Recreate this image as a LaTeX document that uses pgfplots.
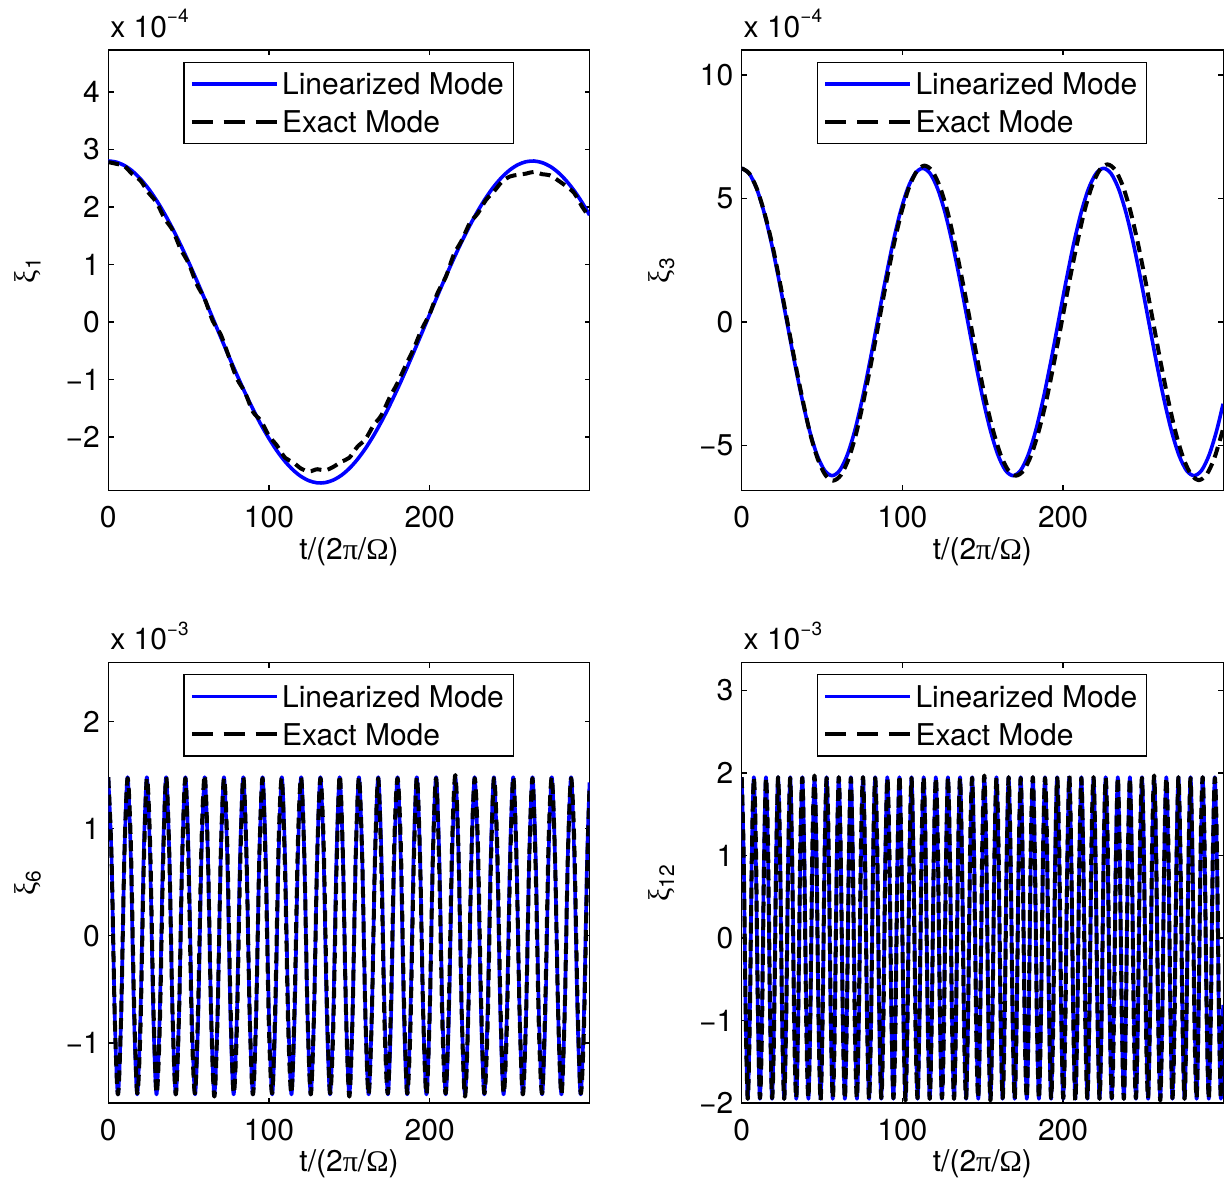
\documentclass[border=0pt]{standalone}
\usepackage{fontspec}
\setmainfont{TeX Gyre Heros}
\newfontfamily\grk{Liberation Serif}
\usepackage{pgfplots}
\usepackage{pgfplotstable}
\pgfplotsset{compat=1.18}

\newcommand{\fs}{\fontsize{15}{18}\selectfont}

% xi_1 : linearized vs exact
\pgfplotstableread{
t lin ex
0 2.800 2.78
5 2.780 2.75
10 2.721 2.71
15 2.624 2.57
20 2.489 2.46
25 2.319 2.25
30 2.116 2.08
35 1.883 1.80
40 1.624 1.60
45 1.342 1.27
50 1.041 1.02
55 0.725 0.66
60 0.398 0.40
65 0.067 0.02
70 -0.266 -0.22
75 -0.595 -0.60
80 -0.916 -0.98
85 -1.224 -1.22
90 -1.514 -1.56
95 -1.784 -1.72
100 -2.026 -1.98
105 -2.242 -2.15
110 -2.425 -2.36
115 -2.574 -2.44
120 -2.687 -2.55
125 -2.761 -2.60
130 -2.797 -2.56
135 -2.793 -2.58
140 -2.749 -2.52
145 -2.667 -2.43
150 -2.547 -2.36
155 -2.391 -2.17
160 -2.201 -2.04
165 -1.980 -1.80
170 -1.731 -1.62
175 -1.457 -1.32
180 -1.163 -1.06
185 -0.853 -0.76
190 -0.530 -0.47
195 -0.200 -0.13
200 0.133 0.14
205 0.464 0.51
210 0.789 0.78
215 1.102 1.17
220 1.400 1.42
225 1.678 1.72
230 1.932 1.89
235 2.160 2.12
240 2.356 2.27
245 2.519 2.44
250 2.646 2.53
255 2.736 2.56
260 2.787 2.58
265 2.799 2.61
270 2.771 2.57
275 2.705 2.55
280 2.600 2.46
285 2.457 2.36
290 2.281 2.24
295 2.072 2.00
299.5 1.859 1.82
}\tone

% xi_6
\pgfplotstableread{
t lin ex
0 1.48 1.48
2 0.74 0.74
4 -0.74 -0.74
6 -1.48 -1.48
8 -0.74 -0.74
10 0.74 0.74
12 1.48 1.47
14 0.74 0.87
16 -0.74 -0.60
18 -1.48 -1.47
20 -0.74 -0.87
22 0.74 0.60
24 1.48 1.47
26 0.74 0.87
28 -0.74 -0.60
30 -1.48 -1.47
32 -0.74 -0.87
34 0.74 0.60
36 1.48 1.48
38 0.74 0.74
40 -0.74 -0.74
42 -1.48 -1.48
44 -0.74 -0.74
46 0.74 0.74
48 1.48 1.47
50 0.74 0.60
52 -0.74 -0.87
54 -1.48 -1.47
56 -0.74 -0.60
58 0.74 0.87
60 1.48 1.50
62 0.74 0.75
64 -0.74 -0.75
66 -1.48 -1.50
68 -0.74 -0.75
70 0.74 0.75
72 1.48 1.47
74 0.74 0.87
76 -0.74 -0.60
78 -1.48 -1.47
80 -0.74 -0.87
82 0.74 0.60
84 1.48 1.48
86 0.74 0.74
88 -0.74 -0.74
90 -1.48 -1.48
92 -0.74 -0.74
94 0.74 0.74
96 1.48 1.47
98 0.74 0.60
100 -0.74 -0.87
102 -1.48 -1.47
104 -0.74 -0.60
106 0.74 0.87
108 1.48 1.47
110 0.74 0.60
112 -0.74 -0.87
114 -1.48 -1.47
116 -0.74 -0.60
118 0.74 0.87
120 1.48 1.48
122 0.74 0.74
124 -0.74 -0.74
126 -1.48 -1.48
128 -0.74 -0.74
130 0.74 0.74
132 1.48 1.47
134 0.74 0.87
136 -0.74 -0.60
138 -1.48 -1.47
140 -0.74 -0.87
142 0.74 0.60
144 1.48 1.50
146 0.74 0.75
148 -0.74 -0.75
150 -1.48 -1.50
152 -0.74 -0.75
154 0.74 0.75
156 1.48 1.48
158 0.74 0.74
160 -0.74 -0.74
162 -1.48 -1.48
164 -0.74 -0.74
166 0.74 0.74
168 1.48 1.47
170 0.74 0.60
172 -0.74 -0.87
174 -1.48 -1.47
176 -0.74 -0.60
178 0.74 0.87
180 1.48 1.47
182 0.74 0.87
184 -0.74 -0.60
186 -1.48 -1.47
188 -0.74 -0.87
190 0.74 0.60
192 1.48 1.48
194 0.74 0.74
196 -0.74 -0.74
198 -1.48 -1.48
200 -0.74 -0.74
202 0.74 0.74
204 1.48 1.47
206 0.74 0.60
208 -0.74 -0.87
210 -1.48 -1.47
212 -0.74 -0.60
214 0.74 0.87
216 1.48 1.50
218 0.74 0.75
220 -0.74 -0.75
222 -1.48 -1.50
224 -0.74 -0.75
226 0.74 0.75
228 1.48 1.47
230 0.74 0.87
232 -0.74 -0.60
234 -1.48 -1.47
236 -0.74 -0.87
238 0.74 0.60
240 1.48 1.47
242 0.74 0.87
244 -0.74 -0.60
246 -1.48 -1.47
248 -0.74 -0.87
250 0.74 0.60
252 1.48 1.48
254 0.74 0.74
256 -0.74 -0.74
258 -1.48 -1.48
260 -0.74 -0.74
262 0.74 0.74
264 1.48 1.47
266 0.74 0.60
268 -0.74 -0.87
270 -1.48 -1.47
272 -0.74 -0.60
274 0.74 0.87
276 1.48 1.48
278 0.74 0.74
280 -0.74 -0.74
282 -1.48 -1.48
284 -0.74 -0.74
286 0.74 0.74
288 1.48 1.47
290 0.74 0.87
292 -0.74 -0.60
294 -1.48 -1.47
296 -0.74 -0.87
298 0.74 0.60
299.5 1.43 1.41
}\tsix

% xi_12
\pgfplotstableread{
t lin ex
0 1.95 1.95
1.26 0.98 0.98
2.52 -0.98 -0.98
3.78 -1.95 -1.95
5.03 -0.98 -0.98
6.29 0.98 0.98
7.55 1.95 1.94
8.81 0.98 1.15
10.07 -0.98 -0.79
11.33 -1.95 -1.94
12.58 -0.98 -1.15
13.84 0.98 0.79
15.10 1.95 1.94
16.36 0.98 1.15
17.62 -0.98 -0.79
18.88 -1.95 -1.94
20.13 -0.98 -1.15
21.39 0.98 0.79
22.65 1.95 1.95
23.91 0.98 0.98
25.17 -0.98 -0.98
26.43 -1.95 -1.95
27.68 -0.98 -0.98
28.94 0.98 0.98
30.20 1.95 1.94
31.46 0.98 0.79
32.72 -0.98 -1.15
33.98 -1.95 -1.94
35.23 -0.98 -0.79
36.49 0.98 1.15
37.75 1.95 1.94
39.01 0.98 0.79
40.27 -0.98 -1.15
41.53 -1.95 -1.94
42.78 -0.98 -0.79
44.04 0.98 1.15
45.30 1.95 1.97
46.56 0.98 0.99
47.82 -0.98 -0.99
49.08 -1.95 -1.97
50.33 -0.98 -0.99
51.59 0.98 0.99
52.85 1.95 1.94
54.11 0.98 1.15
55.37 -0.98 -0.79
56.63 -1.95 -1.94
57.88 -0.98 -1.15
59.14 0.98 0.79
60.40 1.95 1.95
61.66 0.98 0.98
62.92 -0.98 -0.98
64.18 -1.95 -1.95
65.43 -0.98 -0.98
66.69 0.98 0.98
67.95 1.95 1.94
69.21 0.98 0.79
70.47 -0.98 -1.15
71.73 -1.95 -1.94
72.98 -0.98 -0.79
74.24 0.98 1.15
75.50 1.95 1.95
76.76 0.98 0.98
78.02 -0.98 -0.98
79.28 -1.95 -1.95
80.53 -0.98 -0.98
81.79 0.98 0.98
83.05 1.95 1.94
84.31 0.98 1.15
85.57 -0.98 -0.79
86.83 -1.95 -1.94
88.08 -0.98 -1.15
89.34 0.98 0.79
90.60 1.95 1.94
91.86 0.98 1.15
93.12 -0.98 -0.79
94.38 -1.95 -1.94
95.63 -0.98 -1.15
96.89 0.98 0.79
98.15 1.95 1.97
99.41 0.98 0.99
100.67 -0.98 -0.99
101.93 -1.95 -1.97
103.18 -0.98 -0.99
104.44 0.98 0.99
105.70 1.95 1.94
106.96 0.98 0.79
108.22 -0.98 -1.15
109.48 -1.95 -1.94
110.73 -0.98 -0.79
111.99 0.98 1.15
113.25 1.95 1.95
114.51 0.98 0.98
115.77 -0.98 -0.98
117.03 -1.95 -1.95
118.28 -0.98 -0.98
119.54 0.98 0.98
120.80 1.95 1.94
122.06 0.98 1.15
123.32 -0.98 -0.79
124.58 -1.95 -1.94
125.83 -0.98 -1.15
127.09 0.98 0.79
128.35 1.95 1.95
129.61 0.98 0.98
130.87 -0.98 -0.98
132.13 -1.95 -1.95
133.38 -0.98 -0.98
134.64 0.98 0.98
135.90 1.95 1.94
137.16 0.98 0.79
138.42 -0.98 -1.15
139.68 -1.95 -1.94
140.93 -0.98 -0.79
142.19 0.98 1.15
143.45 1.95 1.94
144.71 0.98 0.79
145.97 -0.98 -1.15
147.23 -1.95 -1.94
148.48 -0.98 -0.79
149.74 0.98 1.15
151.00 1.95 1.97
152.26 0.98 0.99
153.52 -0.98 -0.99
154.78 -1.95 -1.97
156.03 -0.98 -0.99
157.29 0.98 0.99
158.55 1.95 1.94
159.81 0.98 1.15
161.07 -0.98 -0.79
162.33 -1.95 -1.94
163.58 -0.98 -1.15
164.84 0.98 0.79
166.10 1.95 1.95
167.36 0.98 0.98
168.62 -0.98 -0.98
169.88 -1.95 -1.95
171.13 -0.98 -0.98
172.39 0.98 0.98
173.65 1.95 1.94
174.91 0.98 0.79
176.17 -0.98 -1.15
177.43 -1.95 -1.94
178.68 -0.98 -0.79
179.94 0.98 1.15
181.20 1.95 1.95
182.46 0.98 0.98
183.72 -0.98 -0.98
184.98 -1.95 -1.95
186.23 -0.98 -0.98
187.49 0.98 0.98
188.75 1.95 1.94
190.01 0.98 1.15
191.27 -0.98 -0.79
192.53 -1.95 -1.94
193.78 -0.98 -1.15
195.04 0.98 0.79
196.30 1.95 1.94
197.56 0.98 1.15
198.82 -0.98 -0.79
200.08 -1.95 -1.94
201.33 -0.98 -1.15
202.59 0.98 0.79
203.85 1.95 1.97
205.11 0.98 0.99
206.37 -0.98 -0.99
207.63 -1.95 -1.97
208.88 -0.98 -0.99
210.14 0.98 0.99
211.40 1.95 1.94
212.66 0.98 0.79
213.92 -0.98 -1.15
215.18 -1.95 -1.94
216.43 -0.98 -0.79
217.69 0.98 1.15
218.95 1.95 1.95
220.21 0.98 0.98
221.47 -0.98 -0.98
222.73 -1.95 -1.95
223.98 -0.98 -0.98
225.24 0.98 0.98
226.50 1.95 1.94
227.76 0.98 1.15
229.02 -0.98 -0.79
230.28 -1.95 -1.94
231.53 -0.98 -1.15
232.79 0.98 0.79
234.05 1.95 1.95
235.31 0.98 0.98
236.57 -0.98 -0.98
237.83 -1.95 -1.95
239.08 -0.98 -0.98
240.34 0.98 0.98
241.60 1.95 1.94
242.86 0.98 0.79
244.12 -0.98 -1.15
245.38 -1.95 -1.94
246.63 -0.98 -0.79
247.89 0.98 1.15
249.15 1.95 1.94
250.41 0.98 0.79
251.67 -0.98 -1.15
252.93 -1.95 -1.94
254.18 -0.98 -0.79
255.44 0.98 1.15
256.70 1.95 1.97
257.96 0.98 0.99
259.22 -0.98 -0.99
260.48 -1.95 -1.97
261.73 -0.98 -0.99
262.99 0.98 0.99
264.25 1.95 1.94
265.51 0.98 1.15
266.77 -0.98 -0.79
268.03 -1.95 -1.94
269.28 -0.98 -1.15
270.54 0.98 0.79
271.80 1.95 1.95
273.06 0.98 0.98
274.32 -0.98 -0.98
275.58 -1.95 -1.95
276.83 -0.98 -0.98
278.09 0.98 0.98
279.35 1.95 1.94
280.61 0.98 0.79
281.87 -0.98 -1.15
283.13 -1.95 -1.94
284.38 -0.98 -0.79
285.64 0.98 1.15
286.90 1.95 1.95
288.16 0.98 0.98
289.42 -0.98 -0.98
290.68 -1.95 -1.95
291.93 -0.98 -0.98
293.19 0.98 0.98
294.45 1.95 1.94
295.71 0.98 1.15
296.97 -0.98 -0.79
298.23 -1.95 -1.94
299.60 -0.81 -0.95
}\ttwelve

\pgfplotsset{
  mfig/.style={
    scale only axis, width=240.7pt, height=220.25pt,
    anchor=south west,
    xmin=0, xmax=299.6,
    xtick={0,100,200}, xticklabels={0,100,200},
    tick align=inside, major tick length=2.6pt,
    axis line style={line width=0.6pt},
    every tick/.append style={line width=0.6pt, black},
    tick label style={font=\fs},
    xticklabel style={inner sep=0pt, anchor=north, yshift=-7.7pt},
    yticklabel style={inner sep=0pt, anchor=east, xshift=-4pt},
    xlabel={t/(2{\grk π}/{\grk Ω})},
    xlabel style={font=\fs, at={(axis description cs:0.5,0)}, anchor=center, yshift=-30.5pt},
    ylabel style={font=\fs, at={(axis description cs:-0.167,0.5)}, anchor=center},
    every axis title/.style={font=\fs, at={(axis description cs:0,1)}, anchor=base west,
      inner sep=0pt, xshift=0.8pt, yshift=6.3pt},
    legend style={at={(axis description cs:0.1558,0.9734)}, anchor=north west,
      draw=black, line width=0.6pt, fill=white, inner xsep=3pt, inner ysep=1.3pt,
      font=\fs, row sep=0pt, column sep=0pt,
      nodes={inner xsep=1.8pt, inner ysep=4pt, text height=11pt, text depth=0pt}},
    legend cell align=left,
    legend image code/.code={\path (-5pt,0pt) -- (37.3pt,0pt); \draw[##1] (0pt,0pt) -- (37.3pt,0pt);},
  },
  lin/.style={blue, line width=1.8pt, smooth, line join=round},
  ex/.style={black, line width=2pt, smooth, line join=round, dash pattern=on 5.5pt off 3.2pt,
    legend image post style={dash pattern=on 5.5pt off 10.4pt}},
}

\newcommand{\sci}[1]{x 10\raisebox{7.3pt}{\fontsize{9.5}{11}\selectfont −#1}}

\begin{document}
\begin{tikzpicture}
\path[use as bounding box] (0,0) rectangle (613.5pt,591.5pt);

\begin{axis}[mfig, at={(54.15pt,346.25pt)},
  ymin=-2.93, ymax=4.73, ytick={-2,-1,0,1,2,3,4}, yticklabels={−2,−1,0,1,2,3,4},
  ylabel={{\grk ξ}\textsubscript{1}}, title={\sci{4}}]
\addplot[lin] table[x=t, y=lin] {\tone};
\addplot[ex] table[x=t, y=ex] {\tone};
\legend{Linearized Mode, Exact Mode}
\end{axis}

\begin{axis}[mfig, at={(370.85pt,346.25pt)},
  ymin=-6.82, ymax=11.01, ytick={-5,0,5,10}, yticklabels={−5,0,5,10},
  ylabel={{\grk ξ}\textsubscript{3}}, title={\sci{4}}]
\addplot[lin] coordinates {
(0,6.220) (4.69,6.008) (9.38,5.387) (14.08,4.398) (18.77,3.110) (23.46,1.610)
(28.15,0) (32.84,-1.610) (37.53,-3.110) (42.23,-4.398) (46.92,-5.387) (51.61,-6.008)
(56.30,-6.220) (60.99,-6.008) (65.68,-5.387) (70.38,-4.398) (75.07,-3.110) (79.76,-1.610)
(84.45,0) (89.14,1.610) (93.83,3.110) (98.53,4.398) (103.22,5.387) (107.91,6.008)
(112.60,6.220) (117.29,6.008) (121.98,5.387) (126.68,4.398) (131.37,3.110) (136.06,1.610)
(140.75,0) (145.44,-1.610) (150.13,-3.110) (154.83,-4.398) (159.52,-5.387) (164.21,-6.008)
(168.90,-6.220) (173.59,-6.008) (178.28,-5.387) (182.98,-4.398) (187.67,-3.110) (192.36,-1.610)
(197.05,0) (201.74,1.610) (206.43,3.110) (211.13,4.398) (215.82,5.387) (220.51,6.008)
(225.20,6.220) (229.89,6.008) (234.58,5.387) (239.28,4.398) (243.97,3.110) (248.66,1.610)
(253.35,0) (258.04,-1.610) (262.73,-3.110) (267.43,-4.398) (272.12,-5.387) (276.81,-6.008)
(281.50,-6.220) (286.19,-6.008) (290.88,-5.387) (295.58,-4.398) (299.6,-3.31)
};
\addplot[ex] coordinates {
(0,6.22) (4.74,6.008) (9.48,5.387) (14.23,4.398) (18.97,3.150) (23.71,1.631)
(28.45,0) (33.19,-1.631) (37.93,-3.150) (42.68,-4.540) (47.42,-5.560) (52.16,-6.201)
(56.90,-6.42) (61.64,-6.201) (66.38,-5.560) (71.13,-4.540) (75.87,-3.175) (80.61,-1.644)
(85.35,0) (90.09,1.644) (94.83,3.175) (99.58,4.476) (104.32,5.482) (109.06,6.114)
(113.80,6.33) (118.54,6.114) (123.28,5.482) (128.03,4.476) (132.77,3.140) (137.51,1.625)
(142.25,0) (146.99,-1.625) (151.73,-3.140) (156.48,-4.398) (161.22,-5.387) (165.96,-6.008)
(170.70,-6.22) (175.44,-6.008) (180.18,-5.387) (184.93,-4.398) (189.67,-3.150) (194.41,-1.631)
(199.15,0) (203.89,1.631) (208.63,3.150) (213.38,4.511) (218.12,5.525) (222.86,6.163)
(227.60,6.38) (232.34,6.163) (237.08,5.525) (241.83,4.511) (246.57,3.190) (251.31,1.651)
(256.05,0) (260.79,-1.651) (265.53,-3.190) (270.28,-4.525) (275.02,-5.543) (279.76,-6.182)
(284.50,-6.40) (289.24,-6.182) (293.98,-5.543) (298.73,-4.525) (299.6,-4.30)
};
\legend{Linearized Mode, Exact Mode}
\end{axis}

\begin{axis}[mfig, at={(54.15pt,40pt)},
  ymin=-1.56, ymax=2.55, ytick={-1,0,1,2}, yticklabels={−1,0,1,2},
  ylabel={{\grk ξ}\textsubscript{6}}, title={\sci{3}}]
\addplot[lin] table[x=t, y=lin] {\tsix};
\addplot[ex] table[x=t, y=ex] {\tsix};
\legend{Linearized Mode, Exact Mode}
\end{axis}

\begin{axis}[mfig, at={(370.85pt,40pt)},
  ymin=-2.0, ymax=3.34, ytick={-2,-1,0,1,2,3}, yticklabels={−2,−1,0,1,2,3},
  ylabel={{\grk ξ}\textsubscript{12}}, title={\sci{3}}]
\addplot[lin] table[x=t, y=lin] {\ttwelve};
\addplot[ex] table[x=t, y=ex] {\ttwelve};
\legend{Linearized Mode, Exact Mode}
\end{axis}
\end{tikzpicture}
\end{document}
